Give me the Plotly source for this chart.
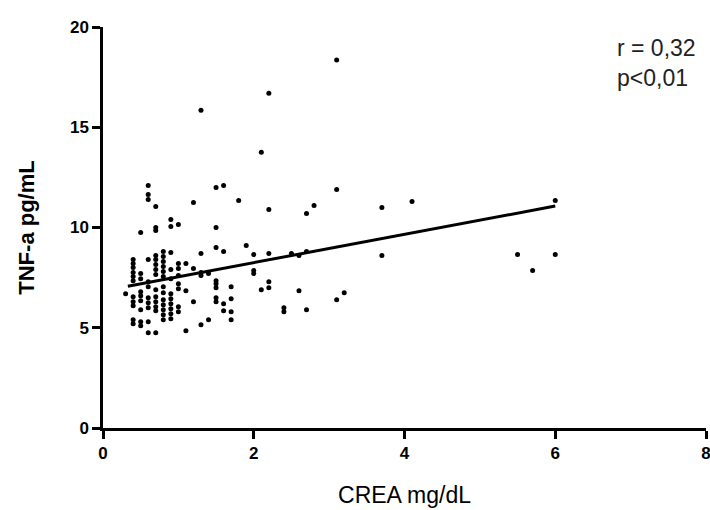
import plotly.graph_objects as go

# CREA (mg/dL) and TNF-a (pg/mL) values
crea_cluster = (
    [0.3]
    + [0.4] * 11
    + [0.5] * 9
    + [0.6] * 11
    + [0.7] * 14
    + [0.8] * 13
    + [0.9] * 11
    + [1.0] * 8
)
tnf_cluster = (
    [6.7]
    + [8.4, 8.2, 8.0, 7.75, 7.55, 7.35, 6.55, 6.3, 6.1, 5.4, 5.2]
    + [9.75, 7.7, 7.45, 6.8, 6.6, 6.35, 5.9, 5.3, 5.1]
    + [12.1, 11.65, 11.4, 8.4, 7.3, 7.05, 6.5, 6.25, 6.0, 5.3, 4.75]
    + [11.05, 10.0, 9.85, 8.6, 8.4, 8.15, 7.9, 7.65, 6.9, 6.55, 6.3, 6.05, 5.85, 4.75]
    + [8.8, 8.55, 8.3, 8.05, 7.8, 7.55, 7.05, 6.75, 6.4, 6.15, 5.9, 5.65, 5.4]
    + [10.4, 10.05, 8.75, 7.9, 7.45, 6.7, 6.45, 6.2, 5.95, 5.7, 5.45]
    + [10.15, 8.2, 7.95, 7.6, 7.2, 6.95, 6.05, 5.8]
)

crea_mid = [1.1, 1.2, 1.3, 1.3, 1.4, 1.5, 1.5, 1.5, 1.7, 1.5, 1.5, 1.7, 1.6, 1.6,
            1.7, 1.7, 1.3, 1.4, 1.1, 1.1, 1.2, 1.2, 1.3, 1.5, 1.6, 1.8, 1.5,
            1.5, 1.6, 1.9, 2.0, 1.3]
tnf_mid = [8.2, 7.95, 7.75, 7.6, 7.7, 7.35, 7.2, 7.0, 7.05, 6.5, 6.3, 6.45, 6.2, 5.85,
           5.8, 5.4, 5.15, 5.4, 4.85, 6.85, 6.3, 11.25, 15.85, 12.0, 12.1, 11.35, 10.0,
           9.0, 8.8, 9.1, 8.65, 8.7]

crea_right = [3.1, 2.2, 2.1, 3.1, 2.2, 2.7, 2.8, 3.7, 4.1, 6.0,
              2.2, 2.5, 2.6, 2.7, 3.7, 5.5, 6.0, 5.7,
              2.0, 2.0, 2.2, 2.1, 2.2, 2.6, 3.1, 3.2, 2.4, 2.4, 2.7]
tnf_right = [18.35, 16.7, 13.75, 11.9, 10.9, 10.7, 11.1, 11.0, 11.3, 11.35,
             8.7, 8.7, 8.6, 8.8, 8.6, 8.65, 8.65, 7.85,
             7.85, 7.7, 7.3, 6.9, 7.0, 6.85, 6.4, 6.75, 6.0, 5.8, 5.9]

crea = crea_cluster + crea_mid + crea_right
tnf = tnf_cluster + tnf_mid + tnf_right

# regression line end points
fit_x = [0.33, 6.0]
fit_y = [7.07, 11.07]

x_ticks = [0, 2, 4, 6, 8]
y_ticks = [0, 5, 10, 15, 20]

fig = go.Figure()
fig.add_trace(go.Scatter(x=crea, y=tnf, mode="markers",
                         marker=dict(color="black", size=5),
                         showlegend=False, cliponaxis=False))
fig.add_trace(go.Scatter(x=fit_x, y=fit_y, mode="lines",
                         line=dict(color="black", width=3),
                         showlegend=False))

fig.update_layout(
    width=710, height=510,
    margin=dict(l=103, r=4, t=27, b=82),
    paper_bgcolor="white", plot_bgcolor="white",
    font=dict(family="Liberation Sans, Arial", color="black"),
)
fig.update_xaxes(
    range=[0, 8], tickvals=x_ticks, ticktext=[f"<b>{v}</b>" for v in x_ticks],
    showgrid=False, zeroline=False, showline=True, linecolor="black", linewidth=2.5,
    ticks="outside", ticklen=8, tickwidth=2.5, tickcolor="black",
    tickfont=dict(size=17), ticklabeloverflow="allow", automargin=False,
    title=dict(text="CREA mg/dL", font=dict(size=23), standoff=25),
)
fig.update_yaxes(
    range=[0, 20], tickvals=y_ticks, ticktext=[f"<b>{v}</b>" for v in y_ticks],
    showgrid=False, zeroline=False, showline=True, linecolor="black", linewidth=2.5,
    ticks="outside", ticklen=8, tickwidth=2.5, tickcolor="black",
    tickfont=dict(size=17), ticklabeloverflow="allow", automargin=False,
    title=dict(text="<b>TNF-a pg/mL</b>", font=dict(size=22), standoff=30),
)
fig.add_annotation(x=1.0, y=0.985, xref="paper", yref="paper",
                   xanchor="right", yanchor="top", align="left", showarrow=False,
                   text="r = 0,32<br>p<0,01", font=dict(size=23, color="#222"),
                   xshift=-8)

fig.write_html("out.html")
